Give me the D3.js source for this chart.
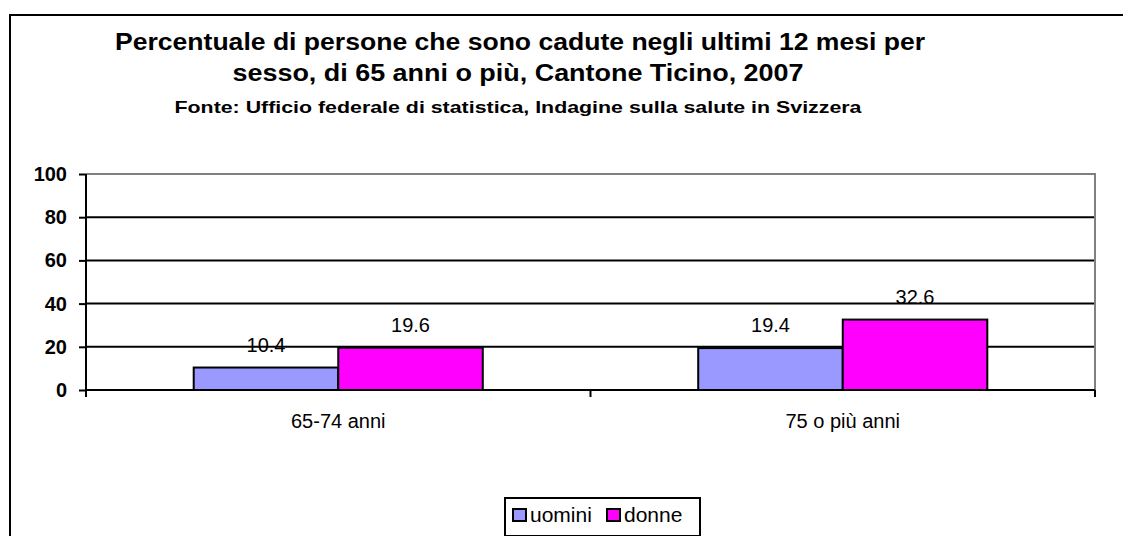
<!DOCTYPE html>
<html>
  <head>
    <meta charset="utf-8" />
    <title>Cadute 65+</title>
    <script src="https://cdnjs.cloudflare.com/ajax/libs/d3/7.8.5/d3.min.js"></script>
    <style>
      body { margin: 0; background: #fff; }
      svg { display: block; font-family: "Liberation Sans", Arial, sans-serif; }
    </style>
  </head>
  <body>
    <svg width="1123" height="536"></svg>
  </body>
  <script>
    // data
    const categories = ["65-74 anni", "75 o più anni"];
    const series = ["uomini", "donne"];
    const uomini = [10.4, 19.4];
    const donne = [19.6, 32.6];
    const yTicks = [0, 20, 40, 60, 80, 100];
    const colors = ["#9999ff", "#ff00ff"];

    const titleLines = [
      "Percentuale di persone che sono cadute negli ultimi 12 mesi per",
      "sesso, di 65 anni o più, Cantone Ticino, 2007"
    ];
    const subtitle = "Fonte: Ufficio federale di statistica, Indagine sulla salute in Svizzera";

    const svg = d3.select("svg");
    const plot = { left: 86, right: 1095, top: 174, bottom: 390 };

    // outer frame (runs off the right/bottom edge)
    svg.append("rect")
      .attr("x", 10).attr("y", 15)
      .attr("width", 1130).attr("height", 540)
      .attr("fill", "none").attr("stroke", "#000").attr("stroke-width", 2);

    // titles
    svg.append("text")
      .attr("x", 520).attr("y", 50)
      .attr("text-anchor", "middle")
      .attr("font-weight", "bold").attr("font-size", 23)
      .attr("textLength", 810).attr("lengthAdjust", "spacingAndGlyphs")
      .text(titleLines[0]);
    svg.append("text")
      .attr("x", 518).attr("y", 81)
      .attr("text-anchor", "middle")
      .attr("font-weight", "bold").attr("font-size", 23)
      .attr("textLength", 571).attr("lengthAdjust", "spacingAndGlyphs")
      .text(titleLines[1]);
    svg.append("text")
      .attr("x", 518).attr("y", 113)
      .attr("text-anchor", "middle")
      .attr("font-weight", "bold").attr("font-size", 17)
      .attr("textLength", 687).attr("lengthAdjust", "spacingAndGlyphs")
      .text(subtitle);

    const y = d3.scaleLinear().domain([0, 100]).range([plot.bottom, plot.top]);
    const x0 = d3.scaleBand().domain(categories).range([plot.left, plot.right])
      .paddingInner(0.427).paddingOuter(0.2135);
    const x1 = d3.scaleBand().domain(series).range([0, x0.bandwidth()]);

    // gridlines
    svg.append("g")
      .selectAll("line")
      .data(yTicks.filter((d) => d > 0 && d < 100))
      .enter()
      .append("line")
      .attr("x1", plot.left).attr("x2", plot.right)
      .attr("y1", (d) => y(d)).attr("y2", (d) => y(d))
      .attr("stroke", "#000").attr("stroke-width", 2);

    // gray plot border top and right
    svg.append("path")
      .attr("d", `M${plot.left},${plot.top}H${plot.right}V${plot.bottom}`)
      .attr("fill", "none").attr("stroke", "#808080").attr("stroke-width", 2);

    // bars
    const rows = categories.map((c, i) => ({ cat: c, vals: [uomini[i], donne[i]] }));
    const groups = svg.append("g")
      .selectAll("g")
      .data(rows)
      .enter()
      .append("g")
      .attr("transform", (d) => `translate(${x0(d.cat)},0)`);

    groups.selectAll("rect")
      .data((d) => d.vals.map((v, j) => ({ s: series[j], v: v, j: j })))
      .enter()
      .append("rect")
      .attr("x", (d) => x1(d.s))
      .attr("y", (d) => y(d.v))
      .attr("width", x1.bandwidth())
      .attr("height", (d) => y(0) - y(d.v))
      .attr("fill", (d) => colors[d.j])
      .attr("stroke", "#000").attr("stroke-width", 2);

    groups.selectAll("text")
      .data((d) => d.vals.map((v, j) => ({ s: series[j], v: v })))
      .enter()
      .append("text")
      .attr("x", (d) => x1(d.s) + x1.bandwidth() / 2)
      .attr("y", (d) => y(d.v) - 16)
      .attr("text-anchor", "middle")
      .attr("font-size", 20)
      .attr("fill", "#000")
      .text((d) => d3.format(".1f")(d.v));

    // y axis
    const yAxis = d3.axisLeft(y).tickValues(yTicks).tickSize(7).tickPadding(12);
    const gy = svg.append("g")
      .attr("transform", `translate(${plot.left},0)`)
      .call(yAxis);
    gy.select(".domain").attr("d", `M0,${plot.top}V${plot.bottom + 7}`)
      .attr("stroke", "#000").attr("stroke-width", 2);
    gy.selectAll(".tick line").attr("stroke", "#000").attr("stroke-width", 2);
    gy.selectAll(".tick text")
      .attr("font-family", "\"Liberation Sans\", Arial, sans-serif")
      .attr("font-size", 20).attr("font-weight", "bold").attr("fill", "#000");

    // x axis with ticks between categories
    svg.append("line")
      .attr("x1", plot.left).attr("x2", plot.right)
      .attr("y1", plot.bottom).attr("y2", plot.bottom)
      .attr("stroke", "#000").attr("stroke-width", 2);
    const bounds = [plot.left + (plot.right - plot.left) / 2, plot.right];
    svg.append("g")
      .selectAll("line")
      .data(bounds)
      .enter()
      .append("line")
      .attr("x1", (d) => d).attr("x2", (d) => d)
      .attr("y1", plot.bottom).attr("y2", plot.bottom + 7)
      .attr("stroke", "#000").attr("stroke-width", 2);

    svg.append("g")
      .selectAll("text")
      .data(categories)
      .enter()
      .append("text")
      .attr("x", (d) => x0(d) + x0.bandwidth() / 2)
      .attr("y", 428)
      .attr("text-anchor", "middle")
      .attr("font-size", 20)
      .text((d) => d);

    // legend
    const leg = svg.append("g");
    leg.append("rect")
      .attr("x", 505).attr("y", 498)
      .attr("width", 195).attr("height", 38)
      .attr("fill", "#fff").attr("stroke", "#000").attr("stroke-width", 2);
    const legX = [513, 607];
    series.forEach((s, i) => {
      leg.append("rect")
        .attr("x", legX[i]).attr("y", 509)
        .attr("width", 13).attr("height", 12)
        .attr("fill", colors[i]).attr("stroke", "#000").attr("stroke-width", 2);
      leg.append("text")
        .attr("x", legX[i] + 17).attr("y", 522)
        .attr("font-size", 21)
        .text(s);
    });
  </script>
</html>
